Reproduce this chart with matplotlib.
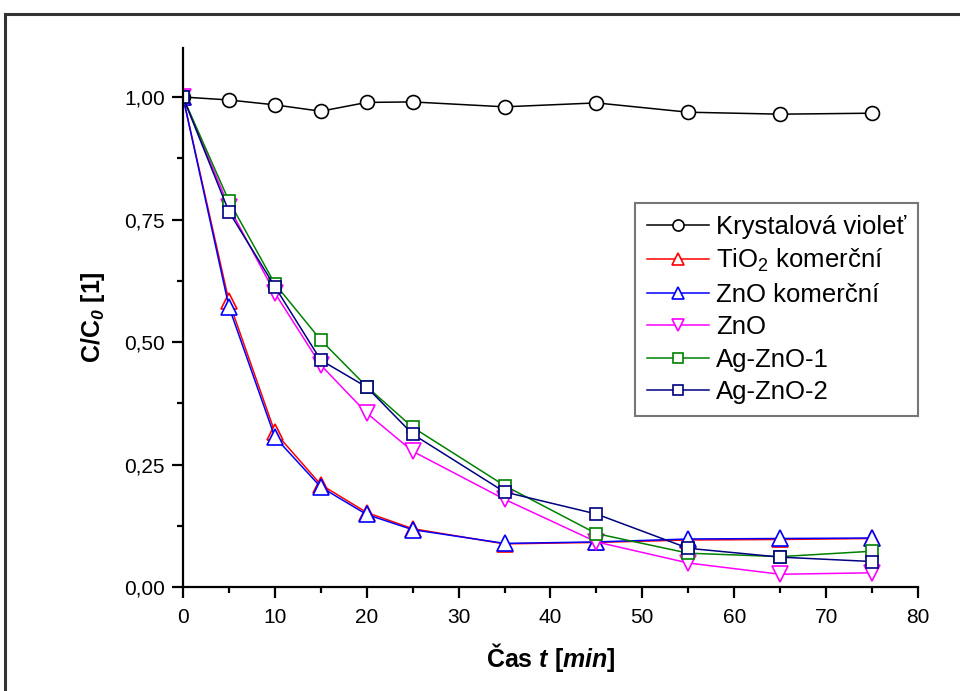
import matplotlib
matplotlib.use("Agg")
import matplotlib.pyplot as plt
from matplotlib.patches import Rectangle
from matplotlib.ticker import MultipleLocator, FuncFormatter

plt.rcParams["font.family"] = ["Liberation Sans", "DejaVu Sans"]
plt.rcParams["mathtext.fontset"] = "custom"
plt.rcParams["mathtext.rm"] = "Liberation Sans"
plt.rcParams["mathtext.it"] = "Liberation Sans:italic"
plt.rcParams["mathtext.bf"] = "Liberation Sans:bold"
plt.rcParams["mathtext.bfit"] = "Liberation Sans:bold:italic"

# sampling times [min]
time = [0, 5, 10, 15, 20, 25, 35, 45, 55, 65, 75]

# relative concentration C/C0
violet = [1.00, 0.994, 0.984, 0.971, 0.989, 0.990, 0.980, 0.988, 0.969, 0.965, 0.967]
tio2_kom = [1.00, 0.583, 0.316, 0.209, 0.152, 0.119, 0.088, 0.091, 0.096, 0.097, 0.099]
zno_kom = [1.00, 0.572, 0.306, 0.204, 0.148, 0.117, 0.089, 0.092, 0.098, 0.099, 0.100]
zno = [1.00, 0.776, 0.600, 0.453, 0.355, 0.277, 0.179, 0.092, 0.049, 0.026, 0.029]
ag_zno_1 = [1.00, 0.788, 0.619, 0.504, 0.409, 0.326, 0.207, 0.109, 0.069, 0.062, 0.073]
ag_zno_2 = [1.00, 0.766, 0.613, 0.463, 0.408, 0.312, 0.194, 0.149, 0.079, 0.061, 0.052]

labels = ["Krystalová violeť", "TiO$_2$ komerční", "ZnO komerční", "ZnO", "Ag-ZnO-1", "Ag-ZnO-2"]
colors = ["black", "#ff0000", "#0000ff", "#ff00ff", "#008000", "#000080"]
markers = ["o", "^", "^", "v", "s", "s"]
sizes = [10, 11, 11, 11, 9, 9]
series = [violet, tio2_kom, zno_kom, zno, ag_zno_1, ag_zno_2]

fig = plt.figure(figsize=(9.6, 6.91), dpi=100)
ax = fig.add_axes([0.1906, 0.1505, 0.7656, 0.780])

for y, lab, c, m, s in zip(series, labels, colors, markers, sizes):
    ax.plot(time, y, color=c, marker=m, markersize=s, markerfacecolor="white",
            markeredgecolor=c, markeredgewidth=1.2, linewidth=1.1, label=lab)

ax.set_xlim(0, 80)
ax.set_ylim(0, 1.1)
ax.xaxis.set_major_locator(MultipleLocator(10))
ax.xaxis.set_minor_locator(MultipleLocator(5))
ax.yaxis.set_major_locator(MultipleLocator(0.25))
ax.yaxis.set_minor_locator(MultipleLocator(0.125))
ax.yaxis.set_major_formatter(FuncFormatter(lambda v, p: f"{v:.2f}".replace(".", ",")))

ax.spines["top"].set_visible(False)
ax.spines["right"].set_visible(False)
for side in ["left", "bottom"]:
    ax.spines[side].set_linewidth(1.6)
ax.tick_params(which="major", direction="out", length=8, width=1.6, labelsize=15, pad=5)
ax.tick_params(which="minor", direction="out", length=4, width=1.6)
ax.tick_params(axis="x", which="major", pad=7)

ax.set_xlabel(r"Čas $\mathbfit{t}$ [$\mathbfit{min}$]", fontsize=18, fontweight="bold", labelpad=10)
ax.set_ylabel(r"C/C$_{\mathbfit{0}}$ [1]", fontsize=18, fontweight="bold", labelpad=12)

leg = ax.legend(loc="upper right", bbox_to_anchor=(1.0, 0.712), borderaxespad=0,
                fontsize=18.5, frameon=True, fancybox=False, edgecolor="#555555",
                handlelength=2.4, handletextpad=0.3, labelspacing=0.33,
                borderpad=0.45, numpoints=1, markerscale=0.8)
leg.get_frame().set_linewidth(1.5)

# page frame around the chart
fig.patches.append(Rectangle((0.0052, -0.1), 1.2, 1.0797, transform=fig.transFigure,
                             fill=False, edgecolor="#333333", linewidth=2.2,
                             clip_on=False))

fig.savefig("out.png", dpi=100)
